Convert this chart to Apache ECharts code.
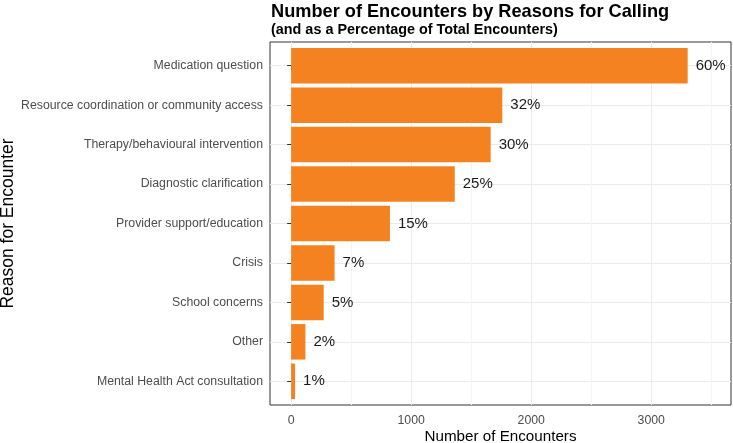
<!DOCTYPE html>
<html>
<head>
<meta charset="utf-8">
<script src="https://cdn.jsdelivr.net/npm/echarts@6/dist/echarts.min.js"></script>
<style>
  html, body { margin: 0; padding: 0; background: #fff; }
  #chart { width: 733px; height: 443px; }
</style>
</head>
<body>
<div id="chart"></div>
<script>
const reasons = [
    'Medication question',
    'Resource coordination or community access',
    'Therapy/behavioural intervention',
    'Diagnostic clarification',
    'Provider support/education',
    'Crisis',
    'School concerns',
    'Other',
    'Mental Health Act consultation'
];
const encounters = [3303, 1759, 1662, 1363, 823, 362, 271, 119, 33];
const percents = [60, 32, 30, 25, 15, 7, 5, 2, 1];
const majorTicks = [0, 1000, 2000, 3000];
const minorTicks = [500, 1500, 2500, 3500];

const chart = echarts.init(document.getElementById('chart'));
const font = 'Liberation Sans, Arial, sans-serif';
const catIdx = reasons.map((_, i) => i);

// ggplot-like expansion of the x range
const xMin = -176, xMax = 3664;

const option = {
    backgroundColor: '#fff',
    textStyle: { fontFamily: font },
    title: {
        text: 'Number of Encounters by Reasons for Calling',
        subtext: '(and as a Percentage of Total Encounters)',
        left: 266,
        top: -2,
        itemGap: 2,
        textStyle: { fontSize: 18.2, fontWeight: 'bold', color: '#000', fontFamily: font },
        subtextStyle: { fontSize: 14.4, fontWeight: 'bold', color: '#000', fontFamily: font }
    },
    grid: [
        {
            left: 270, right: 2, top: 42, bottom: 38,
            outerBoundsMode: 'none', containLabel: false,
            show: true, borderColor: '#333', borderWidth: 1, backgroundColor: 'transparent'
        },
        { left: 270, right: 2, top: 46, bottom: 42, outerBoundsMode: 'none', containLabel: false }
    ],
    xAxis: [
        {
            gridIndex: 0,
            type: 'value',
            min: xMin,
            max: xMax,
            axisLine: { show: false },
            axisTick: { show: true, customValues: majorTicks, length: 4, lineStyle: { color: '#333' } },
            axisLabel: {
                customValues: majorTicks,
                formatter: v => String(v),
                color: '#4d4d4d',
                fontSize: 12.3,
                margin: 10
            },
            splitLine: { show: true, lineStyle: { color: '#ebebeb', width: 1 } },
            name: 'Number of Encounters',
            nameLocation: 'middle',
            nameMoveOverlap: false,
            nameGap: 24,
            nameTextStyle: { fontSize: 15.2, color: '#000' }
        },
        {
            gridIndex: 0,
            type: 'value',
            min: xMin,
            max: xMax,
            axisLine: { show: false },
            axisTick: { show: false, customValues: minorTicks },
            axisLabel: { show: false },
            splitLine: { show: true, lineStyle: { color: '#f4f4f4', width: 1 } }
        },
        {
            gridIndex: 1,
            type: 'value',
            min: xMin,
            max: xMax,
            show: false
        }
    ],
    yAxis: [
        {
            gridIndex: 0,
            type: 'value',
            min: -0.6,
            max: 8.6,
            inverse: true,
            axisLine: { show: false },
            axisTick: { show: true, customValues: catIdx, length: 4, lineStyle: { color: '#333' } },
            axisLabel: {
                customValues: catIdx,
                formatter: v => reasons[Math.round(v)],
                color: '#4d4d4d',
                fontSize: 12.3,
                margin: 7
            },
            splitLine: { show: true, lineStyle: { color: '#ebebeb', width: 1 } },
            name: 'Reason for Encounter',
            nameLocation: 'middle',
            nameMoveOverlap: false,
            nameRotate: 90,
            nameGap: 253,
            nameTextStyle: { fontSize: 17.5, color: '#000' }
        },
        {
            gridIndex: 1,
            type: 'category',
            data: reasons,
            inverse: true,
            show: false
        }
    ],
    series: [
        {
            type: 'bar',
            xAxisIndex: 2,
            yAxisIndex: 1,
            data: encounters,
            barWidth: '90%',
            itemStyle: { color: '#F58220' },
            label: {
                show: true,
                position: 'right',
                distance: 8,
                formatter: p => percents[p.dataIndex] + '%',
                fontSize: 15,
                color: '#1a1a1a'
            },
            silent: true
        }
    ]
};

chart.setOption(option);
</script>
</body>
</html>
